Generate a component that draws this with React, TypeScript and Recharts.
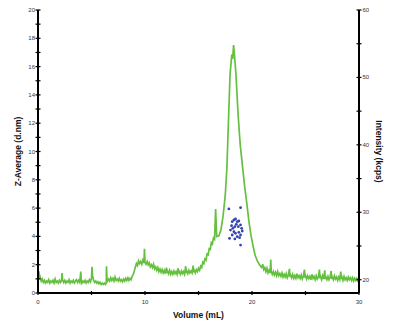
import React from 'react';
import { ComposedChart, Line, Scatter, XAxis, YAxis } from 'recharts';

// volume (mL), intensity (kcps) - right axis
const intensityTrace: [number, number][] = [
  [0, 20.2], [0.05, 20.9], [0.1, 21.0], [0.15, 20.1], [0.2, 20.4], [0.3, 19.8], [0.4, 20.1],
  [0.5, 19.6], [0.6, 19.9], [0.7, 19.5], [0.8, 19.8], [0.9, 19.6], [1.0, 20.0], [1.1, 19.5],
  [1.2, 19.8], [1.3, 19.6], [1.4, 19.9], [1.5, 19.5], [1.6, 20.1], [1.7, 19.6], [1.8, 19.8],
  [1.9, 19.5], [2.0, 19.9], [2.1, 19.6], [2.2, 19.9], [2.25, 21.0], [2.3, 20.0], [2.4, 19.6],
  [2.5, 19.9], [2.6, 19.5], [2.7, 19.8], [2.8, 19.6], [2.9, 20.0], [3.0, 19.5], [3.1, 19.8],
  [3.2, 19.6], [3.3, 19.9], [3.4, 19.5], [3.5, 19.8], [3.6, 20.0], [3.7, 19.6], [3.8, 19.9],
  [3.9, 19.6], [4.0, 21.2], [4.05, 19.8], [4.1, 19.5], [4.2, 19.8], [4.3, 19.6], [4.4, 19.9],
  [4.5, 19.5], [4.6, 19.8], [4.7, 19.6], [4.8, 20.0], [4.9, 19.7], [5.0, 20.2], [5.05, 21.9],
  [5.1, 20.6], [5.2, 19.9], [5.3, 19.6], [5.4, 19.8], [5.5, 19.5], [5.6, 19.7], [5.7, 19.4],
  [5.8, 19.6], [5.9, 19.3], [6.0, 19.5], [6.1, 19.3], [6.2, 19.5], [6.3, 19.3], [6.38, 19.5],
  [6.4, 22.0], [6.45, 20.0], [6.5, 19.8], [6.6, 20.1], [6.7, 19.8], [6.8, 20.3], [6.9, 19.9],
  [7.0, 20.2], [7.1, 19.8], [7.2, 20.4], [7.3, 19.9], [7.4, 20.1], [7.5, 19.8], [7.6, 20.2],
  [7.7, 19.8], [7.8, 20.0], [7.9, 19.7], [8.0, 20.1], [8.1, 19.8], [8.2, 20.2], [8.3, 19.9],
  [8.4, 20.3], [8.5, 19.9], [8.6, 20.2], [8.7, 20.0], [8.8, 20.5], [8.9, 20.8], [9.0, 21.3],
  [9.1, 21.9], [9.2, 22.4], [9.3, 22.1], [9.4, 22.8], [9.5, 22.4], [9.6, 22.7], [9.7, 22.3],
  [9.8, 22.9], [9.9, 22.5], [9.95, 24.6], [10.0, 22.6], [10.1, 22.3], [10.2, 22.7], [10.3, 22.2],
  [10.4, 22.5], [10.5, 21.9], [10.6, 22.2], [10.7, 21.8], [10.8, 22.3], [10.9, 21.6], [11.0, 21.9],
  [11.1, 21.4], [11.2, 21.8], [11.3, 21.2], [11.4, 21.6], [11.5, 21.1], [11.6, 21.5], [11.7, 21.0],
  [11.8, 21.4], [11.9, 20.9], [12.0, 21.8], [12.05, 21.0], [12.1, 21.3], [12.2, 20.9], [12.3, 21.4],
  [12.4, 20.8], [12.5, 21.2], [12.6, 20.8], [12.7, 21.3], [12.8, 20.9], [12.9, 21.2], [13.0, 20.8],
  [13.1, 21.7], [13.15, 20.9], [13.2, 21.2], [13.3, 20.8], [13.4, 21.3], [13.5, 20.9], [13.6, 21.2],
  [13.7, 20.8], [13.8, 22.0], [13.85, 21.0], [13.9, 21.3], [14.0, 20.9], [14.1, 21.4], [14.2, 21.0],
  [14.3, 21.3], [14.4, 21.0], [14.5, 22.1], [14.55, 21.1], [14.6, 21.4], [14.7, 21.0], [14.8, 21.5],
  [14.9, 21.2], [15.0, 21.7], [15.1, 21.4], [15.2, 22.0], [15.3, 21.8], [15.4, 22.6], [15.5, 22.4],
  [15.6, 23.1], [15.7, 22.9], [15.8, 23.8], [15.9, 23.7], [16.0, 24.6], [16.1, 24.5], [16.2, 25.5],
  [16.3, 25.3], [16.4, 26.2], [16.5, 26.0], [16.6, 30.5], [16.7, 26.4], [16.9, 26.5], [17.1, 27.4],
  [17.3, 29.5], [17.5, 32.5], [17.65, 36.5], [17.8, 43.5], [17.95, 50.5], [18.1, 53.2], [18.2, 53.0],
  [18.28, 54.8], [18.35, 53.6], [18.5, 50.5], [18.7, 44.5], [18.9, 40.0], [19.1, 37.0], [19.3, 34.0],
  [19.5, 31.5], [19.7, 28.8], [19.9, 26.6], [20.1, 25.0], [20.3, 23.6], [20.5, 22.8], [20.7, 22.2],
  [20.9, 21.8], [21.0, 22.3], [21.1, 21.5], [21.2, 21.8], [21.3, 21.2], [21.4, 21.7], [21.5, 21.0],
  [21.6, 21.4], [21.7, 21.0], [21.75, 23.0], [21.8, 21.2], [21.9, 20.8], [22.0, 21.2], [22.1, 20.7],
  [22.2, 21.1], [22.3, 20.6], [22.4, 21.2], [22.5, 20.6], [22.6, 20.9], [22.7, 20.5], [22.8, 21.0],
  [22.9, 20.4], [23.0, 20.8], [23.1, 20.4], [23.2, 20.9], [23.3, 20.3], [23.4, 20.7], [23.5, 21.6],
  [23.55, 20.4], [23.6, 20.7], [23.7, 20.3], [23.8, 20.8], [23.9, 20.2], [24.0, 20.6], [24.1, 20.2],
  [24.2, 20.9], [24.3, 20.3], [24.4, 20.6], [24.5, 20.2], [24.6, 20.7], [24.7, 20.1], [24.8, 20.5],
  [24.9, 21.5], [24.95, 20.3], [25.0, 20.6], [25.1, 20.1], [25.2, 20.6], [25.3, 20.2], [25.4, 20.5],
  [25.5, 20.0], [25.6, 20.8], [25.7, 20.2], [25.8, 20.5], [25.9, 20.0], [26.0, 20.6], [26.1, 20.1],
  [26.2, 20.4], [26.3, 21.5], [26.35, 20.2], [26.4, 20.5], [26.5, 20.0], [26.6, 20.6], [26.7, 20.1],
  [26.8, 21.4], [26.85, 20.1], [26.9, 20.4], [27.0, 20.0], [27.1, 20.5], [27.2, 20.0], [27.3, 20.4],
  [27.4, 21.3], [27.45, 20.1], [27.5, 20.4], [27.6, 20.0], [27.7, 20.6], [27.8, 20.1], [27.9, 20.4],
  [28.0, 19.9], [28.1, 20.4], [28.2, 20.0], [28.3, 21.2], [28.35, 20.1], [28.4, 20.4], [28.5, 19.9],
  [28.6, 20.5], [28.7, 20.0], [28.8, 20.3], [28.9, 19.9], [29.0, 20.4], [29.1, 20.0], [29.2, 20.3],
  [29.3, 19.9], [29.4, 20.3], [29.5, 19.8], [29.6, 20.2], [29.7, 19.9], [29.8, 20.2], [29.9, 19.8],
  [30.0, 20.0],
];

// volume (mL), Z-average (d.nm) - left axis
const zAvgPoints: [number, number][] = [
  [17.84, 5.94], [18.93, 6.03], [18.15, 5.04], [18.31, 5.16], [18.46, 5.23], [18.62, 5.04],
  [18.77, 5.09], [18.09, 4.76], [18.21, 4.57], [18.4, 4.69], [18.53, 4.85], [18.72, 4.69],
  [18.93, 4.81], [19.03, 4.57], [17.99, 4.45], [18.31, 4.33], [18.46, 4.22], [18.77, 4.29],
  [19.09, 4.38], [18.15, 4.1], [18.62, 3.98], [18.93, 4.1], [17.9, 3.86], [18.4, 3.82],
  [18.84, 3.91], [18.93, 3.39],
];

const xTicks = [0, 5, 10, 15, 20, 25, 30];
const xLabels = [0, 10, 20, 30];
const leftTicks = [0, 1, 2, 3, 4, 5, 6, 7, 8, 9, 10, 11, 12, 13, 14, 15, 16, 17, 18, 19, 20];
const leftLabels = [0, 2, 4, 6, 8, 10, 12, 14, 16, 18, 20];
const rightTicks = [20, 25, 30, 35, 40, 45, 50, 55, 60];
const rightLabels = [20, 30, 40, 50, 60];

const traceData = intensityTrace.map(([v, i]) => ({ v, i }));
const dotData = zAvgPoints.map(([v, z]) => ({ v, z }));

const GREEN = '#66c040';
const BLUE = '#3343b0';
const tickFont = { fontSize: 6, fill: '#333' };
const titleStyle = { fontSize: 8.5, fontWeight: 'bold' as const, fill: '#111' };

const LeftTick = (props: any) => {
  const { x, y, payload } = props;
  return (
    <g>
      <line x1={x - 2.5} x2={x + 2.5} y1={y} y2={y} stroke="#000" strokeWidth={1.2} />
      {leftLabels.includes(payload.value) && (
        <text x={x - 3} y={y} dy={2} textAnchor="end" {...tickFont}>{payload.value}</text>
      )}
    </g>
  );
};

const RightTick = (props: any) => {
  const { x, y, payload } = props;
  return (
    <g>
      <line x1={x - 2.5} x2={x + 2.5} y1={y} y2={y} stroke="#000" strokeWidth={1.2} />
      {rightLabels.includes(payload.value) && (
        <text x={x + 3.5} y={y} dy={2} textAnchor="start" {...tickFont}>{payload.value}</text>
      )}
    </g>
  );
};

const BottomTick = (props: any) => {
  const { x, y, payload } = props;
  return (
    <g>
      <line x1={x} x2={x} y1={y - 2} y2={y + 2} stroke="#000" strokeWidth={1.2} />
      {xLabels.includes(payload.value) && (
        <text x={x} y={y + 10.5} textAnchor="middle" {...tickFont}>{payload.value}</text>
      )}
    </g>
  );
};

const Dot = (props: any) => <circle cx={props.cx} cy={props.cy} r={1.4} fill={BLUE} />;

export default function App() {
  return (
    <div style={{ position: 'absolute', left: 0, top: 0, width: 400, height: 324, background: '#fff', fontFamily: '"Liberation Sans", Arial, sans-serif' }}>
      <ComposedChart width={400} height={324} margin={{ top: 10, right: 0, bottom: 0, left: 0 }}>
        <XAxis
          type="number"
          dataKey="v"
          domain={[0, 30]}
          ticks={xTicks}
          allowDataOverflow
          height={31}
          tickSize={0}
          tickMargin={0}
          tickLine={false}
          tick={<BottomTick />}
          axisLine={{ stroke: '#000', strokeWidth: 2 }}
          label={{ value: 'Volume (mL)', position: 'center', dy: 6, style: titleStyle }}
        />
        <YAxis
          yAxisId="left"
          type="number"
          domain={[0, 20]}
          ticks={leftTicks}
          interval={0}
          width={38}
          tickSize={0}
          tickMargin={0}
          tickLine={false}
          tick={<LeftTick />}
          axisLine={{ stroke: '#000', strokeWidth: 2 }}
          label={{ value: 'Z-Average (d.nm)', angle: -90, position: 'center', dx: -1, style: titleStyle }}
        />
        <YAxis
          yAxisId="right"
          orientation="right"
          type="number"
          domain={[18.03, 60]}
          ticks={rightTicks}
          interval={0}
          allowDataOverflow
          width={41}
          tickSize={0}
          tickMargin={0}
          tickLine={false}
          tick={<RightTick />}
          axisLine={{ stroke: '#000', strokeWidth: 2 }}
          label={{ value: 'Intensity (kcps)', angle: 90, position: 'center', dx: 0, style: titleStyle }}
        />
        <Line
          yAxisId="right"
          data={traceData}
          dataKey="i"
          type="linear"
          stroke={GREEN}
          strokeWidth={1.7}
          dot={false}
          isAnimationActive={false}
        />
        <Scatter
          yAxisId="left"
          data={dotData}
          dataKey="z"
          fill={BLUE}
          shape={<Dot />}
          isAnimationActive={false}
        />
      </ComposedChart>
    </div>
  );
}
